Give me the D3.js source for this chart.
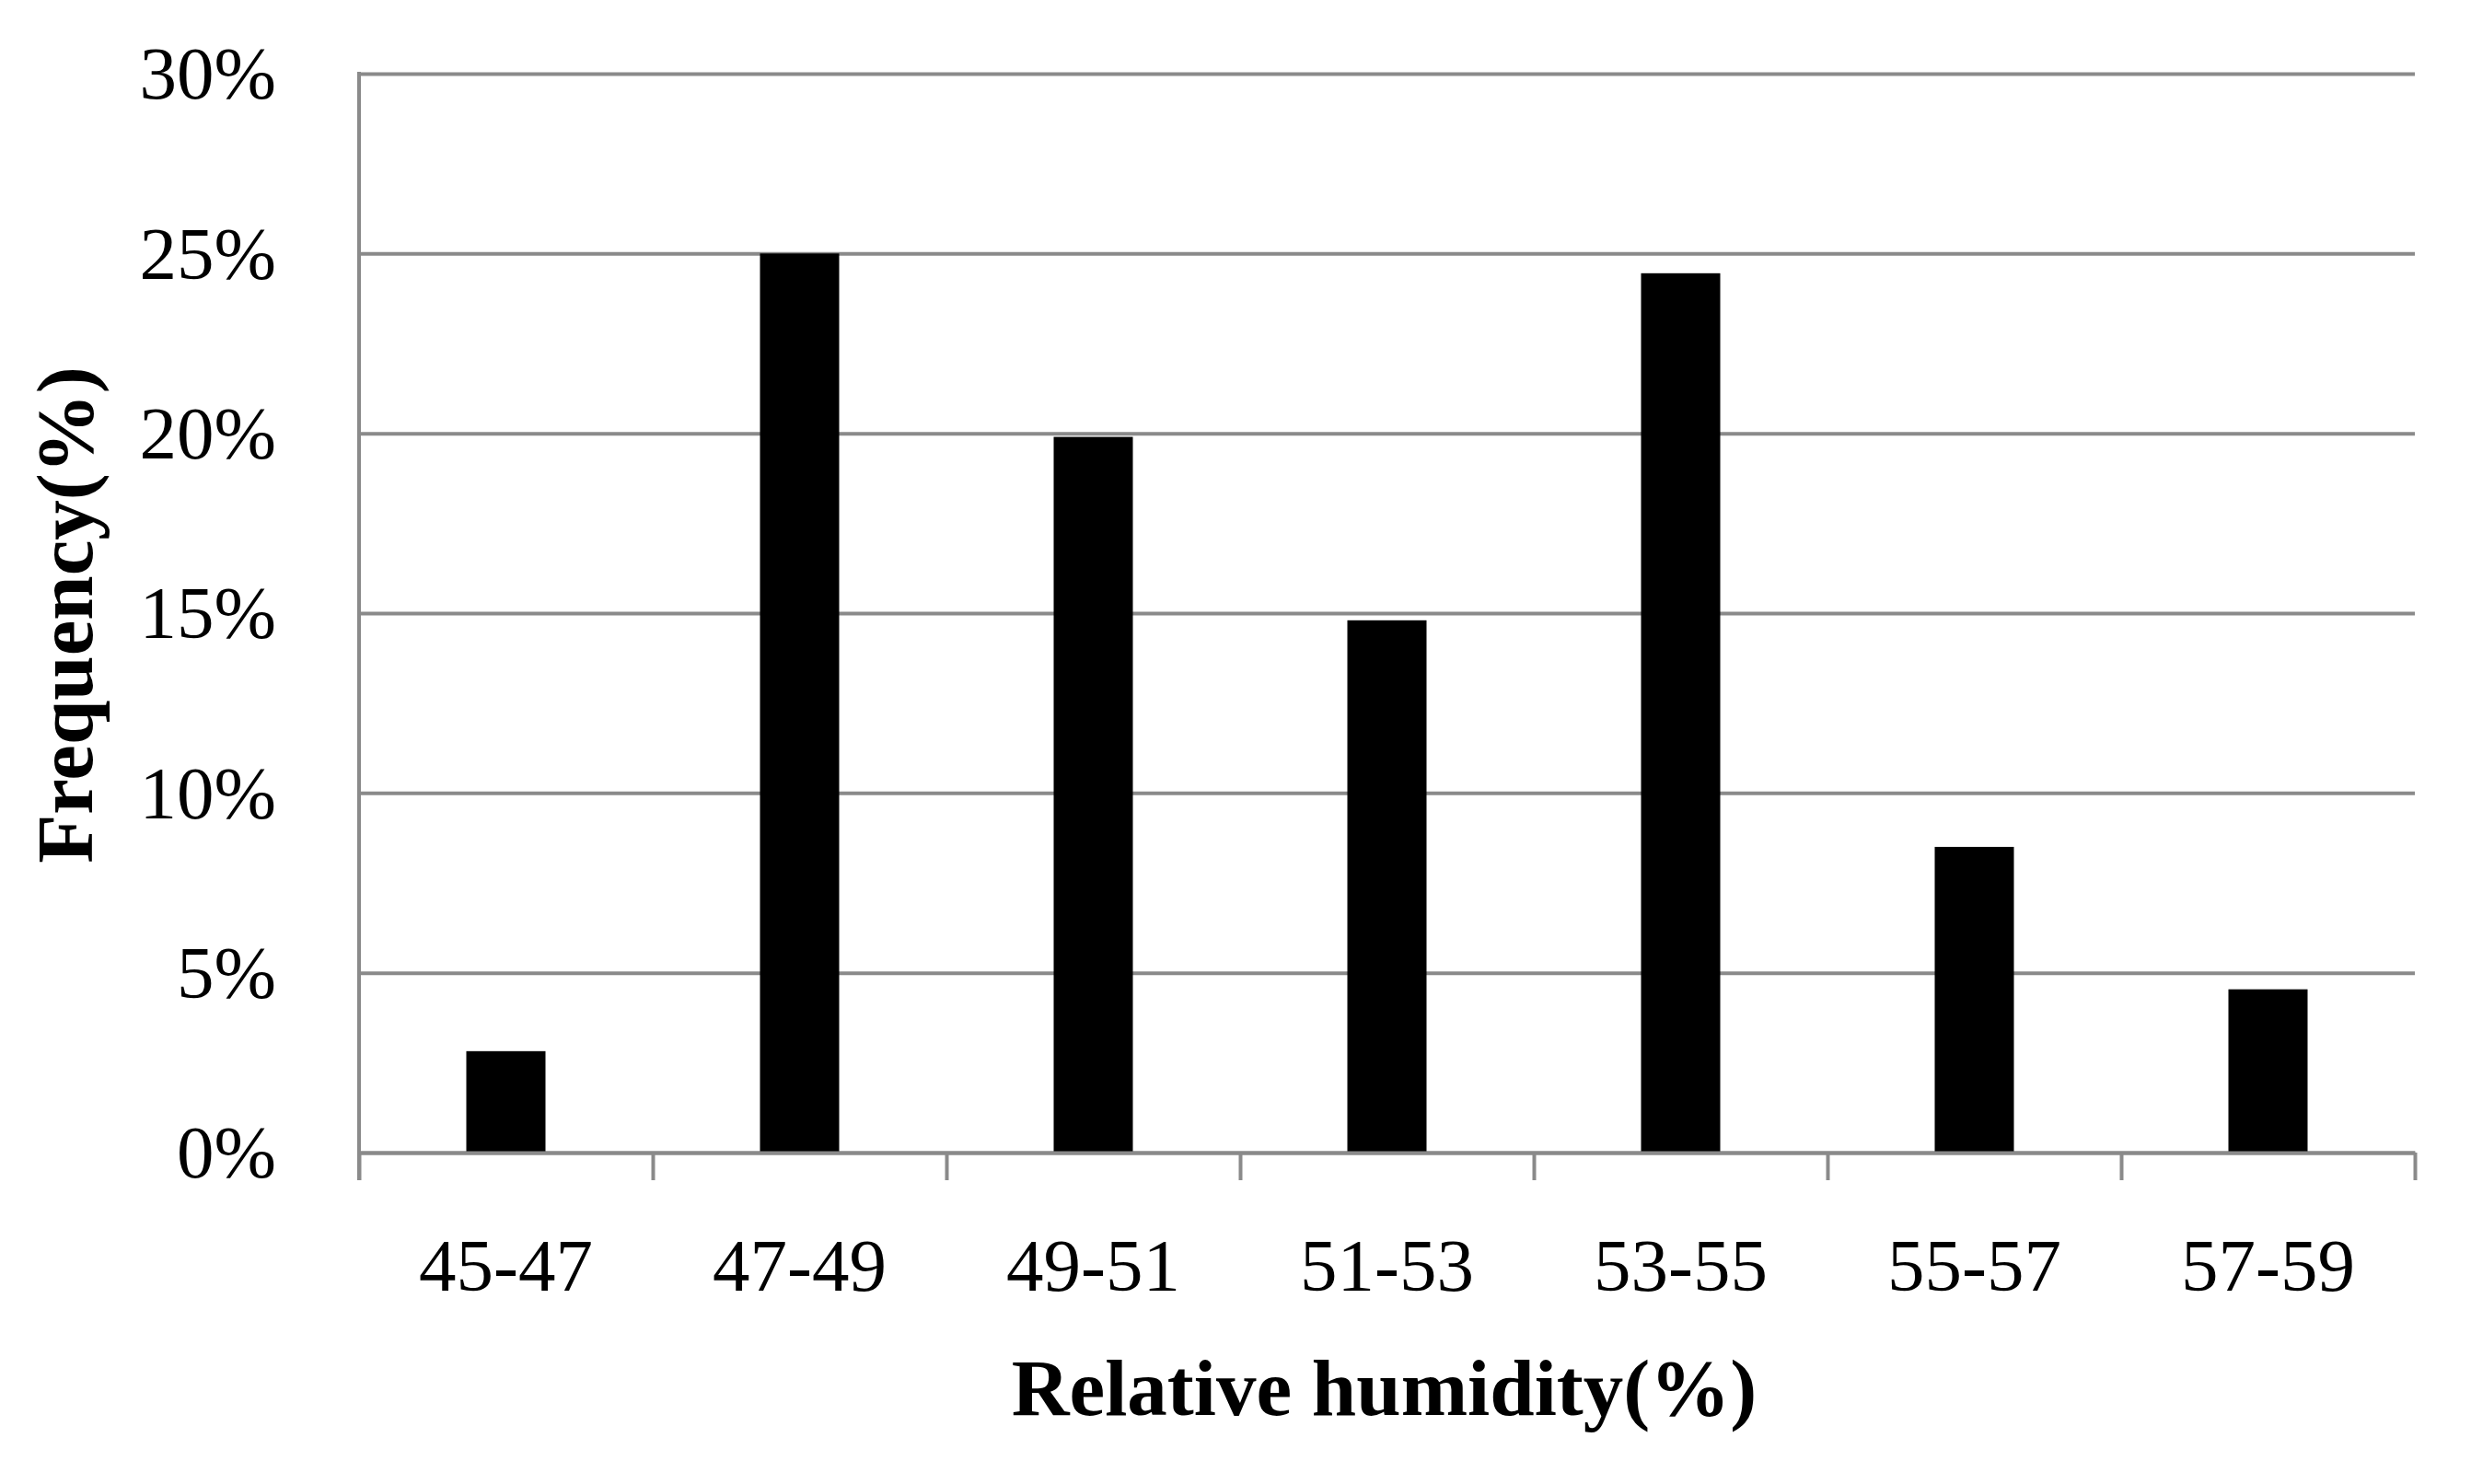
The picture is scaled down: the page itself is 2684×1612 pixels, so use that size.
<!DOCTYPE html>
<html>
<head>
<meta charset="utf-8">
<script src="https://cdn.jsdelivr.net/npm/d3@7"></script>
<style>
  body { margin: 0; background: #fff; }
  text { font-family: "Liberation Serif", "Times New Roman", serif; fill: #000; }
</style>
</head>
<body>
<svg></svg>
<script>
// data
var categories = ["45-47", "47-49", "49-51", "51-53", "53-55", "55-57", "57-59"];
var frequency = [2.82, 25.0, 19.9, 14.8, 24.45, 8.5, 4.54];
var yTicks = [0, 5, 10, 15, 20, 25, 30];

var svgWidth = 2684, svgHeight = 1612;
// note: "top" is taken by window.top, so plot* names
var plotLeft = 390, plotRight = 2623, plotTop = 80, plotBottom = 1252;
var gridColor = "#8a8a8a";

var svg = d3.select("svg")
            .attr("width", svgWidth)
            .attr("height", svgHeight);

var p = 1 - 86 / 319;
var x = d3.scaleBand()
          .domain(categories)
          .range([plotLeft, plotRight])
          .paddingInner(p)
          .paddingOuter(p / 2);

var y = d3.scaleLinear()
          .domain([0, 30])
          .range([plotBottom, plotTop]);

// gridlines + y tick labels
var yAxis = svg.append("g")
               .attr("transform", "translate(" + plotLeft + ",0)")
               .call(d3.axisLeft(y)
                       .tickValues(yTicks)
                       .tickSize(-(plotRight - plotLeft))
                       .tickPadding(90)
                       .tickFormat(function(d) {return d + "%";}));
yAxis.select(".domain").remove();
yAxis.selectAll("line").attr("stroke", gridColor).attr("stroke-width", 4);
yAxis.selectAll("text")
     .attr("font-size", 81)
     .attr("dy", "0.33em")
     .style("font-family", "Liberation Serif");

// bars
svg.selectAll("rect.bar")
   .data(frequency)
   .enter()
   .append("rect")
   .attr("class", "bar")
   .attr("x", function(d, i) {return x(categories[i]);})
   .attr("y", function(d) {return y(d);})
   .attr("width", x.bandwidth())
   .attr("height", function(d) {return plotBottom - y(d);})
   .attr("fill", "#000");

// category boundary ticks along the bottom
var edges = d3.scaleLinear().domain([0, categories.length]).range([plotLeft, plotRight]);
var xEdges = svg.append("g")
                .attr("transform", "translate(0," + plotBottom + ")")
                .call(d3.axisBottom(edges)
                        .tickValues(d3.range(categories.length + 1))
                        .tickSize(30)
                        .tickSizeOuter(0)
                        .tickFormat(""));
xEdges.select(".domain").attr("stroke", gridColor).attr("stroke-width", 4);
xEdges.selectAll("line").attr("stroke", gridColor).attr("stroke-width", 4);

// left axis line
svg.append("line")
   .attr("x1", plotLeft).attr("x2", plotLeft)
   .attr("y1", plotTop - 2).attr("y2", plotBottom + 30)
   .attr("stroke", gridColor)
   .attr("stroke-width", 4);

// category labels
var xAxis = svg.append("g")
               .attr("transform", "translate(0," + plotBottom + ")")
               .call(d3.axisBottom(x).tickSize(0).tickPadding(0));
xAxis.select(".domain").remove();
xAxis.selectAll("text")
     .attr("y", 150)
     .attr("dy", 0)
     .attr("font-size", 81)
     .style("font-family", "Liberation Serif");

// axis titles
svg.append("text")
   .attr("x", (plotLeft + plotRight) / 2 - 3)
   .attr("y", 1537)
   .attr("text-anchor", "middle")
   .attr("font-size", 87)
   .attr("font-weight", "bold")
   .text("Relative humidity(%)");

svg.append("text")
   .attr("transform", "translate(100,668) rotate(-90)")
   .attr("text-anchor", "middle")
   .attr("font-size", 87)
   .attr("font-weight", "bold")
   .text("Frequency(%)");
</script>
</body>
</html>
